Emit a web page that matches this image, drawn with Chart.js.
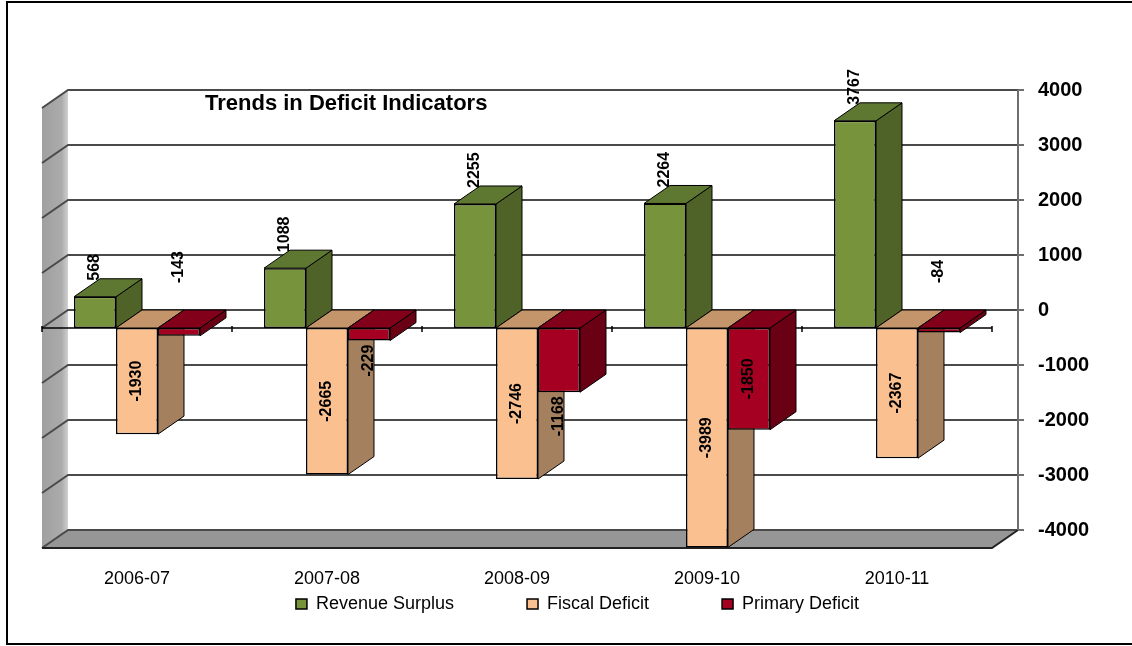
<!DOCTYPE html>
<html>
<head>
<meta charset="utf-8">
<title>Trends in Deficit Indicators</title>
<script src="https://cdn.jsdelivr.net/npm/chart.js@4.4.1/dist/chart.umd.min.js"></script>
<style>
  html, body { margin: 0; padding: 0; background: #fff; }
  canvas { display: block; }
</style>
</head>
<body>
<canvas id="chart" width="1132" height="646"></canvas>
<script>
// Data
const categories = ['2006-07', '2007-08', '2008-09', '2009-10', '2010-11'];
const revenueSurplus = [568, 1088, 2255, 2264, 3767];
const fiscalDeficit = [-1930, -2665, -2746, -3989, -2367];
const primaryDeficit = [-143, -229, -1168, -1850, -84];
const yMin = -4000;
const yMax = 4000;
const yStep = 1000;
const chartTitle = 'Trends in Deficit Indicators';

const FONT = "'Liberation Sans', Arial, sans-serif";
const DX = 26; // depth of the fake 3d box
const DY = 18;

// front / side / top colours for each series
const palette = [
  { front: '#77933C', side: '#4F6228', top: '#5E7731' },
  { front: '#FAC090', side: '#A5805F', top: '#C4956A' },
  { front: '#A50021', side: '#6A0014', top: '#82001A' },
];

Chart.defaults.font.family = FONT;

function poly(ctx, pts, fill, stroke) {
  ctx.beginPath();
  ctx.moveTo(pts[0][0], pts[0][1]);
  for (let i = 1; i < pts.length; i++) ctx.lineTo(pts[i][0], pts[i][1]);
  ctx.closePath();
  if (fill) { ctx.fillStyle = fill; ctx.fill(); }
  if (stroke) { ctx.strokeStyle = stroke; ctx.lineWidth = 1; ctx.stroke(); }
}

// walls, floor, gridlines and the side/top faces of the bars
const box3d = {
  id: 'box3d',
  beforeDraw(chart) {
    const ctx = chart.ctx;
    ctx.save();
    ctx.strokeStyle = '#000';
    ctx.lineWidth = 2;
    ctx.strokeRect(7, 2, chart.width + 10, chart.height - 4);
    ctx.restore();
  },
  beforeDatasetsDraw(chart) {
    const { ctx, chartArea: a, scales: { x, y } } = chart;
    const L = a.left, R = a.right, T = a.top, B = a.bottom;
    const zero = y.getPixelForValue(0);
    ctx.save();

    // left wall
    const grad = ctx.createLinearGradient(L, 0, L + DX, 0);
    grad.addColorStop(0, '#a0a0a0');
    grad.addColorStop(0.75, '#ababab');
    grad.addColorStop(1, '#d0d0d0');
    poly(ctx, [[L, T], [L + DX, T - DY], [L + DX, B - DY], [L, B]], grad, null);

    // floor
    poly(ctx, [[L, B], [R, B], [R + DX, B - DY], [L + DX, B - DY]], '#969696', null);

    // gridlines (left wall + back wall)
    ctx.strokeStyle = '#4a4a4a';
    ctx.lineWidth = 2;
    y.ticks.forEach((t) => {
      const yf = y.getPixelForValue(t.value);
      ctx.beginPath();
      ctx.moveTo(L, yf);
      ctx.lineTo(L + DX, yf - DY);
      ctx.lineTo(R + DX, yf - DY);
      ctx.stroke();
    });

    // floor edges
    ctx.strokeStyle = '#222';
    ctx.beginPath();
    ctx.moveTo(L, B);
    ctx.lineTo(R, B);
    ctx.lineTo(R + DX, B - DY);
    ctx.stroke();

    // value axis on the right
    ctx.strokeStyle = '#6e6e6e';
    ctx.lineWidth = 2;
    ctx.beginPath();
    ctx.moveTo(R + DX, T - DY);
    ctx.lineTo(R + DX, B - DY);
    y.ticks.forEach((t) => {
      const yb = y.getPixelForValue(t.value) - DY;
      ctx.moveTo(R + DX, yb);
      ctx.lineTo(R + DX + 6, yb);
    });
    ctx.stroke();

    // category axis along zero
    ctx.strokeStyle = '#000';
    ctx.lineWidth = 1.5;
    ctx.beginPath();
    ctx.moveTo(L, zero);
    ctx.lineTo(R, zero);
    const n = categories.length;
    for (let i = 0; i <= n; i++) {
      const px = L + (i * (R - L)) / n;
      ctx.moveTo(px, zero - 2);
      ctx.lineTo(px, zero + 4);
    }
    ctx.stroke();

    // title sits on the back wall
    ctx.fillStyle = '#000';
    ctx.font = `bold 22px ${FONT}`;
    ctx.textAlign = 'left';
    ctx.textBaseline = 'alphabetic';
    ctx.fillText(chartTitle, L + DX + 137, T - DY + 20);

    // side and top faces, left to right
    for (let j = 0; j < n; j++) {
      chart.data.datasets.forEach((ds, i) => {
        const bar = chart.getDatasetMeta(i).data[j];
        const c = palette[i];
        const left = bar.x - bar.width / 2;
        const right = bar.x + bar.width / 2;
        const top = Math.min(bar.y, bar.base);
        const bottom = Math.max(bar.y, bar.base);
        poly(ctx, [[right, top], [right + DX, top - DY], [right + DX, bottom - DY], [right, bottom]], c.side, '#000');
        poly(ctx, [[left, top], [right, top], [right + DX, top - DY], [left + DX, top - DY]], c.top, '#000');
      });
    }
    ctx.restore();
  },
};

// rotated value labels
const barLabels = {
  id: 'barLabels',
  afterDatasetsDraw(chart) {
    const ctx = chart.ctx;
    const zero = chart.scales.y.getPixelForValue(0);
    ctx.save();
    ctx.font = `bold 16px ${FONT}`;
    ctx.fillStyle = '#000';
    ctx.textBaseline = 'middle';
    chart.data.datasets.forEach((ds, i) => {
      chart.getDatasetMeta(i).data.forEach((bar, j) => {
        const v = ds.data[j];
        let anchorY, align;
        if (v >= 0) {
          anchorY = bar.y - 16; align = 'left';
        } else if (v > -200) {
          anchorY = zero - 45; align = 'left';
        } else if (v > -1500) {
          anchorY = bar.y + 4; align = 'right';
        } else {
          anchorY = (bar.y + bar.base) / 2; align = 'center';
        }
        ctx.save();
        ctx.translate(bar.x, anchorY);
        ctx.rotate(-Math.PI / 2);
        ctx.textAlign = align;
        ctx.fillText(String(v), 0, 0);
        ctx.restore();
      });
    });
    ctx.restore();
  },
};

new Chart(document.getElementById('chart'), {
  type: 'bar',
  data: {
    labels: categories,
    datasets: [
      { label: 'Revenue Surplus', data: revenueSurplus, backgroundColor: palette[0].front },
      { label: 'Fiscal Deficit', data: fiscalDeficit, backgroundColor: palette[1].front },
      { label: 'Primary Deficit', data: primaryDeficit, backgroundColor: palette[2].front },
    ],
  },
  options: {
    responsive: false,
    animation: false,
    layout: { padding: { left: 42, top: 108, right: 19, bottom: 23 } },
    datasets: {
      bar: {
        categoryPercentage: 0.663,
        barPercentage: 1,
        borderWidth: 1.5,
        borderColor: '#000',
        borderSkipped: false,
      },
    },
    scales: {
      x: {
        grid: { display: false, drawTicks: false },
        border: { display: false },
        ticks: { color: '#000', font: { size: 18 }, padding: 20 },
        afterFit(scale) { scale.height = 37; },
      },
      y: {
        position: 'right',
        min: yMin,
        max: yMax,
        grid: { display: false, drawTicks: false },
        border: { display: false },
        ticks: {
          stepSize: yStep,
          color: '#000',
          font: { size: 20, weight: 'bold' },
          padding: 46,
          labelOffset: -DY, // labels belong to the back wall
          callback: (value) => String(value),
        },
        afterFit(scale) { scale.width = 121; },
      },
    },
    plugins: {
      legend: {
        position: 'bottom',
        // empty title with negative padding: keeps the wide item gap
        // without the legend growing taller
        title: { display: true, text: '', font: { size: 1, lineHeight: 1 }, padding: { top: -64, bottom: 0 } },
        labels: {
          color: '#000',
          font: { size: 18 },
          boxWidth: 11,
          boxHeight: 10,
          padding: 73,
        },
      },
      tooltip: { enabled: false },
    },
  },
  plugins: [box3d, barLabels],
});
</script>
</body>
</html>
